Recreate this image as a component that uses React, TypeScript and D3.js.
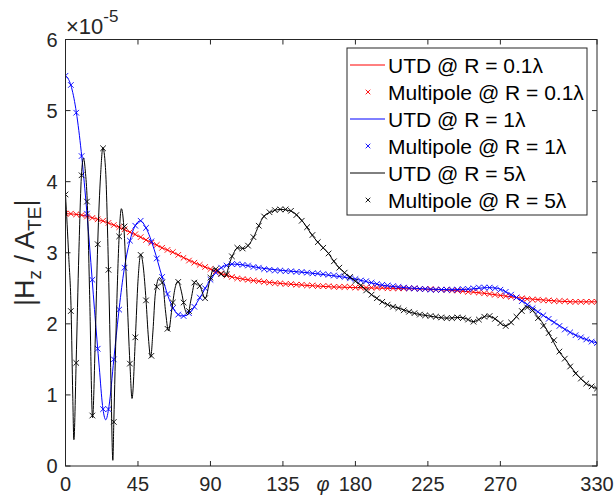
import React from "react";
import * as d3 from "d3";

// ---------- data ----------
const xTicks = [0, 45, 90, 135, 180, 225, 270, 330];
const yTicks = [0, 1, 2, 3, 4, 5, 6];

// multipole sample angles: 100 points from 0 to 330 deg
const mpPhi = d3.range(100).map((i) => (i * 330) / 99);

const mpRed = [
  3.55, 3.55, 3.54, 3.53, 3.51, 3.49, 3.47, 3.45, 3.42, 3.39,
  3.36, 3.33, 3.29, 3.26, 3.22, 3.18, 3.14, 3.11, 3.07, 3.04,
  3.01, 2.97, 2.93, 2.89, 2.86, 2.83, 2.8, 2.77, 2.74, 2.71,
  2.68, 2.66, 2.64, 2.63, 2.62, 2.61, 2.6, 2.59, 2.58, 2.57,
  2.57, 2.56, 2.56, 2.55, 2.55, 2.54, 2.54, 2.53, 2.53, 2.53,
  2.52, 2.52, 2.52, 2.52, 2.51, 2.51, 2.51, 2.51, 2.51, 2.51,
  2.5, 2.5, 2.5, 2.5, 2.5, 2.5, 2.49, 2.49, 2.49, 2.48,
  2.48, 2.48, 2.47, 2.47, 2.46, 2.45, 2.45, 2.44, 2.43, 2.42,
  2.41, 2.4, 2.39, 2.38, 2.37, 2.36, 2.35, 2.34, 2.34, 2.33,
  2.33, 2.32, 2.32, 2.32, 2.31, 2.31, 2.31, 2.31, 2.31, 2.31,
];

const mpBlue = [
  5.49, 5.36, 4.97, 4.36, 3.55, 2.62, 1.65, 0.8, 0.8, 1.5,
  2.2, 2.79, 3.17, 3.38, 3.45, 3.35, 3.16, 2.92, 2.66, 2.42,
  2.22, 2.13, 2.11, 2.15, 2.24, 2.37, 2.5, 2.62, 2.72, 2.79,
  2.82, 2.84, 2.84, 2.83, 2.82, 2.8, 2.79, 2.77, 2.76, 2.75,
  2.75, 2.74, 2.74, 2.73, 2.73, 2.72, 2.71, 2.71, 2.7, 2.69,
  2.68, 2.67, 2.66, 2.64, 2.63, 2.61, 2.6, 2.58, 2.56, 2.55,
  2.54, 2.53, 2.52, 2.51, 2.5, 2.5, 2.49, 2.49, 2.48, 2.48,
  2.48, 2.48, 2.48, 2.48, 2.49, 2.49, 2.5, 2.51, 2.51, 2.51,
  2.5, 2.48, 2.45, 2.41, 2.37, 2.32, 2.27, 2.22, 2.17, 2.12,
  2.07, 2.02, 1.97, 1.92, 1.88, 1.84, 1.81, 1.78, 1.75, 1.73,
];

const mpBlack = [
  3.82, 2.18, 1.45, 4.09, 3.72, 0.71, 3.12, 4.47, 2.76, 0.62,
  3.23, 3.37, 1.44, 1.81, 2.97, 2.33, 1.55, 2.52, 2.58, 1.93,
  2.3, 2.59, 2.3, 2.18, 2.58, 2.53, 2.36, 2.65, 2.77, 2.7,
  2.7, 2.95, 3.07, 3.06, 3.1, 3.22, 3.38, 3.51, 3.57, 3.6,
  3.61, 3.61, 3.59, 3.53, 3.45, 3.36, 3.25, 3.15, 3.07, 2.99,
  2.88, 2.79, 2.72, 2.66, 2.6, 2.54, 2.47, 2.41, 2.36, 2.31,
  2.27, 2.24, 2.22, 2.19, 2.17, 2.15, 2.13, 2.12, 2.11, 2.1,
  2.09, 2.08, 2.08, 2.09, 2.08, 2.06, 2.03, 2.06, 2.1, 2.11,
  2.07, 2.01, 1.97, 2.02, 2.1, 2.18, 2.23, 2.19, 2.08, 1.97,
  1.87, 1.77, 1.61, 1.51, 1.4, 1.3, 1.23, 1.16, 1.12, 1.09,
];

// UTD curves: [phi (deg), |Hz/ATE| x1e-5]
const utdRed: [number, number][] = [
  [0, 3.55], [10, 3.53], [20, 3.47], [30, 3.39], [40, 3.29], [50, 3.18],
  [60, 3.07], [70, 2.97], [80, 2.86], [90, 2.77], [100, 2.68], [110, 2.63],
  [120, 2.6], [135, 2.565], [150, 2.54], [165, 2.52], [180, 2.51], [200, 2.5],
  [220, 2.49], [240, 2.47], [260, 2.43], [280, 2.37], [300, 2.33], [315, 2.31],
  [330, 2.31],
];

const utdBlue: [number, number][] = [
  [0, 5.49], [3, 5.38], [6, 5.08], [9, 4.58], [12, 3.9], [15, 3.08],
  [18, 2.2], [21, 1.38], [23, 0.85], [25, 0.65], [27, 0.84], [30, 1.5],
  [33, 2.15], [36, 2.7], [40, 3.17], [43, 3.37], [46.5, 3.45], [50, 3.35],
  [55, 3.05], [60, 2.66], [65, 2.31], [70, 2.13], [73, 2.11], [77, 2.15],
  [83, 2.35], [90, 2.62], [96, 2.78], [104, 2.84], [110, 2.83], [120, 2.79],
  [135, 2.75], [150, 2.72], [165, 2.68], [180, 2.63], [195, 2.55], [210, 2.51],
  [225, 2.49], [240, 2.48], [252, 2.49], [262, 2.51], [268, 2.5], [275, 2.43],
  [285, 2.3], [295, 2.14], [305, 2.0], [315, 1.86], [322, 1.79], [330, 1.73],
];

const utdBlack: [number, number][] = [
  [0, 3.82], [2, 2.95], [3.5, 2.18], [4.5, 1.0], [5.2, 0.37], [6.6, 1.45],
  [8.3, 3.0], [9.9, 4.09], [11.2, 4.33], [12.3, 4.15], [13.5, 3.72], [15, 2.4],
  [16.8, 0.68], [18.5, 1.8], [20, 3.12], [21.8, 4.1], [23.2, 4.48], [24.8, 4.2],
  [26.7, 2.76], [28.2, 1.2], [29.4, 0.08], [30, 0.62], [31.5, 2.0], [33.3, 3.23],
  [34.7, 3.62], [36.2, 3.37], [38, 2.5], [40, 1.44], [41.3, 0.95], [43.4, 1.81],
  [45, 2.6], [46.7, 2.98], [48.3, 2.8], [50, 2.33], [51.5, 1.8], [52.9, 1.53],
  [54.3, 1.9], [55.8, 2.43], [58.3, 2.65], [60.5, 2.55], [62, 2.2], [64, 1.9],
  [66, 2.2], [68, 2.5], [69.8, 2.6], [72, 2.45], [74, 2.22], [75.9, 2.13],
  [78, 2.35], [80.6, 2.6], [83.5, 2.53], [86.8, 2.36], [89.5, 2.6], [92, 2.78],
  [95, 2.73], [99, 2.66], [102.3, 2.88], [105, 3.02], [107, 3.07], [111, 3.06],
  [113.7, 3.11], [116.8, 3.22], [120, 3.38], [123, 3.51], [127.2, 3.57],
  [133.4, 3.61], [139.6, 3.59], [144.7, 3.51], [148.9, 3.39], [153, 3.25],
  [158.2, 3.11], [163.3, 2.99], [167.5, 2.85], [172.6, 2.73], [178.8, 2.62],
  [183, 2.55], [189, 2.43], [195, 2.33], [201, 2.26], [207, 2.22], [216, 2.15],
  [226, 2.11], [237, 2.08], [245, 2.09], [249, 2.07], [253.3, 2.03], [258, 2.08],
  [261.6, 2.11], [264, 2.1], [267, 2.07], [273, 1.97], [278, 2.05], [282.2, 2.16],
  [286, 2.24], [288, 2.23], [291, 2.16], [295.7, 2.03], [300, 1.87], [306.4, 1.61],
  [311, 1.48], [315, 1.36], [318.6, 1.26], [322.7, 1.17], [326.4, 1.12], [330, 1.09],
];

const legendLabels = [
  "UTD @ R = 0.1\u03bb",
  "Multipole @ R = 0.1\u03bb",
  "UTD @ R = 1\u03bb",
  "Multipole @ R = 1\u03bb",
  "UTD @ R = 5\u03bb",
  "Multipole @ R = 5\u03bb",
];

const RED = "#ff0000";
const BLUE = "#0000ff";
const BLACK = "#000000";
const AXIS = "#262626";
const FONT = "'Liberation Sans', Arial, Helvetica, sans-serif";

export default function App() {
  const W = 614;
  const H = 500;
  const L = 65.5;
  const R = 597;
  const T = 39.5;
  const B = 466;

  const x = d3.scaleLinear().domain([0, 330]).range([L, R]);
  const y = d3.scaleLinear().domain([0, 6]).range([B, T]);

  const line = d3
    .line<[number, number]>()
    .x((d) => x(d[0]))
    .y((d) => y(d[1]))
    .curve(d3.curveMonotoneX);

  const xMark = (cx: number, cy: number, s = 2.8) =>
    `M${cx - s},${cy - s}L${cx + s},${cy + s}M${cx - s},${cy + s}L${cx + s},${cy - s}`;

  const markerPath = (vals: number[]) =>
    vals.map((v, i) => xMark(x(mpPhi[i]), y(v))).join("");

  const series = [
    { utd: utdRed, mp: mpRed, color: RED },
    { utd: utdBlue, mp: mpBlue, color: BLUE },
    { utd: utdBlack, mp: mpBlack, color: BLACK },
  ];

  const tickLen = 5;
  const fs = 20;

  // legend geometry
  const lgX = 347;
  const lgY = 48;
  const lgW = 240;
  const lgH = 167;
  const rowH = 27;
  const row0 = 65;

  return (
    <svg
      width={W}
      height={H}
      style={{ position: "absolute", left: 0, top: 0, background: "#fff" }}
      fontFamily={FONT}
    >
      <rect x={0} y={0} width={W} height={H} fill="#fff" />
      <defs>
        <clipPath id="plotclip">
          <rect x={L} y={T} width={R - L} height={B - T} />
        </clipPath>
      </defs>

      {/* data */}
      <g clipPath="url(#plotclip)">
        {series.map((s, i) => (
          <g key={i}>
            <path d={line(s.utd) || ""} fill="none" stroke={s.color} strokeWidth={1} />
            <path d={markerPath(s.mp)} fill="none" stroke={s.color} strokeWidth={0.9} />
          </g>
        ))}
      </g>

      {/* axes box */}
      <rect x={L} y={T} width={R - L} height={B - T} fill="none" stroke={AXIS} strokeWidth={1} />

      {/* x ticks */}
      {xTicks.map((t) => (
        <g key={"xt" + t}>
          <line x1={x(t)} x2={x(t)} y1={B} y2={B - tickLen} stroke={AXIS} />
          <line x1={x(t)} x2={x(t)} y1={T} y2={T + tickLen} stroke={AXIS} />
          <text
            x={x(t)}
            y={B + 25}
            fontSize={fs}
            textAnchor="middle"
            fill={AXIS}
          >
            {t}
          </text>
        </g>
      ))}
      {/* y ticks */}
      {yTicks.map((t) => (
        <g key={"yt" + t}>
          <line x1={L} x2={L + tickLen} y1={y(t)} y2={y(t)} stroke={AXIS} />
          <line x1={R} x2={R - tickLen} y1={y(t)} y2={y(t)} stroke={AXIS} />
          <text
            x={L - 8}
            y={y(t) + 7}
            fontSize={fs}
            textAnchor="end"
            fill={AXIS}
          >
            {t}
          </text>
        </g>
      ))}

      {/* exponent */}
      <text x={66} y={34} fontSize={22} fill={AXIS}>
        {"\u00d710"}
        <tspan dy={-12} fontSize={17}>
          -5
        </tspan>
      </text>

      {/* x label */}
      <text x={323} y={B + 25} fontSize={fs} textAnchor="middle" fontStyle="italic" fill={AXIS}>
        {"\u03c6"}
      </text>

      {/* y label */}
      <text
        transform={`translate(34,${(T + B) / 2}) rotate(-90)`}
        fontSize={27}
        textAnchor="middle"
        fill={AXIS}
      >
        |H
        <tspan dy={7} fontSize={19}>
          z
        </tspan>
        <tspan dy={-7}> / A</tspan>
        <tspan dy={7} fontSize={19}>
          TE
        </tspan>
        <tspan dy={-7}>|</tspan>
      </text>

      {/* legend */}
      <rect x={lgX} y={lgY} width={lgW} height={lgH} fill="#fff" stroke={AXIS} strokeWidth={1} />
      {legendLabels.map((lab, i) => {
        const cy = row0 + i * rowH;
        const s = series[Math.floor(i / 2)];
        const isLine = i % 2 === 0;
        return (
          <g key={"lg" + i}>
            {isLine ? (
              <line x1={350} x2={385} y1={cy} y2={cy} stroke={s.color} strokeWidth={1} />
            ) : (
              <path d={xMark(368, cy, 2.3)} stroke={s.color} strokeWidth={0.9} fill="none" />
            )}
            <text x={388} y={cy + 7.5} fontSize={21} fill="#000">
              {lab}
            </text>
          </g>
        );
      })}
    </svg>
  );
}
